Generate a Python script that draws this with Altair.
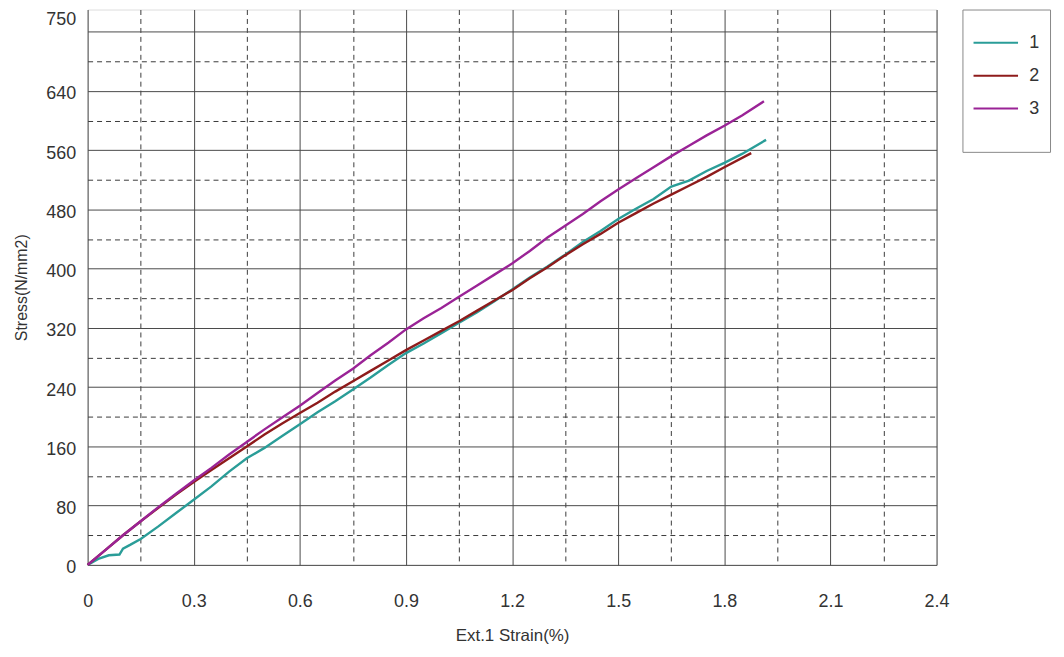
import altair as alt
import pandas as pd

# ---- data ----
strain_1 = [0, 0.03, 0.06, 0.09, 0.10, 0.12, 0.15, 0.2, 0.25, 0.3, 0.35, 0.4, 0.45, 0.5, 0.55, 0.6,
            0.65, 0.7, 0.75, 0.8, 0.85, 0.9, 0.95, 1.0, 1.05, 1.1, 1.15, 1.2, 1.25, 1.3, 1.35, 1.4,
            1.45, 1.5, 1.55, 1.6, 1.65, 1.7, 1.75, 1.8, 1.85, 1.918]
stress_1 = [0, 8, 13, 14, 22, 27, 35, 52, 70, 88, 106, 126, 144, 158, 174, 190,
            206, 221, 237, 253, 270, 286, 299, 313, 327, 341, 356, 372, 388, 403, 419, 436,
            451, 467, 481, 494, 511, 519, 532, 543, 555, 574]

strain_2 = [0, 0.05, 0.1, 0.15, 0.2, 0.25, 0.3, 0.35, 0.4, 0.45, 0.5, 0.55, 0.6, 0.65, 0.7, 0.75,
            0.8, 0.85, 0.9, 0.95, 1.0, 1.05, 1.1, 1.15, 1.2, 1.25, 1.3, 1.35, 1.4, 1.45, 1.5,
            1.55, 1.6, 1.65, 1.7, 1.75, 1.8, 1.876]
stress_2 = [0, 20, 40, 59, 77, 95, 112, 128, 144, 160, 176, 191, 205, 219, 234, 248,
            262, 276, 290, 303, 316, 329, 343, 357, 371, 387, 402, 418, 433, 447, 462,
            475, 488, 500, 512, 524, 537, 556]

strain_3 = [0, 0.05, 0.1, 0.15, 0.2, 0.25, 0.3, 0.35, 0.4, 0.45, 0.5, 0.55, 0.6, 0.65, 0.7, 0.75,
            0.8, 0.85, 0.9, 0.95, 1.0, 1.05, 1.1, 1.15, 1.2, 1.25, 1.3, 1.35, 1.4, 1.45, 1.5,
            1.55, 1.6, 1.65, 1.7, 1.75, 1.8, 1.85, 1.912]
stress_3 = [0, 20, 40, 59, 78, 96, 114, 131, 149, 166, 183, 199, 215, 232, 249, 265,
            283, 300, 318, 333, 347, 362, 377, 392, 407, 424, 442, 458, 474, 491, 507,
            522, 537, 552, 566, 580, 593, 607, 626]

series_names = ["1", "2", "3"]
series_colors = ["#2a9d98", "#8e1b1b", "#9a2396"]

x_ticks = [round(0.15 * k, 2) for k in range(17)]          # 0 .. 2.4
y_ticks = [40 * k for k in range(19)] + [750]              # 0 .. 720, 750

rows = []
for name, xs, ys in zip(series_names, [strain_1, strain_2, strain_3], [stress_1, stress_2, stress_3]):
    for i, (a, b) in enumerate(zip(xs, ys)):
        rows.append({"series": name, "strain": a, "stress": b, "order": i})
df = pd.DataFrame(rows)

FONT = "Liberation Sans"
GRID_SOLID = "#4a4a4a"
GRID_DASH = "#3a3a3a"
X_MINOR = "round(datum.value*100) % 30 != 0"

x_axis = alt.Axis(
    values=x_ticks,
    title="Ext.1 Strain(%)",
    labelExpr="round(datum.value*100) % 30 == 0 ? format(datum.value, '.1~f') : ''",
    labelFlush=False,
    grid=True,
    gridColor={"condition": {"test": X_MINOR, "value": GRID_DASH}, "value": GRID_SOLID},
    gridDash={"condition": {"test": X_MINOR, "value": [5, 4]}, "value": []},
    gridWidth=1,
    ticks=False,
    tickSize=0,
    domain=False,
    labelPadding=28,
    labelFont=FONT, labelFontSize=18, labelColor="#333",
    titleFont=FONT, titleFontSize=17, titleFontWeight="normal", titleColor="#333",
    titlePadding=17,
)

y_axis = alt.Axis(
    values=y_ticks,
    title="Stress(N/mm2)",
    labelExpr="(datum.value % 80 == 0 && datum.value != 720) || datum.value == 750 ? datum.label : ''",
    labelFlush=False,
    grid=True,
    gridColor={"condition": {"test": "datum.value % 80 == 40", "value": GRID_DASH}, "value": GRID_SOLID},
    gridDash={"condition": {"test": "datum.value % 80 == 40", "value": [5, 4]}, "value": []},
    gridOpacity={"condition": {"test": "datum.value == 750", "value": 0}, "value": 1},
    gridWidth=1,
    ticks=False,
    tickSize=0,
    domain=False,
    labelPadding=12,
    labelOffset={"condition": {"test": "datum.value == 750", "value": 10}, "value": 3},
    labelFont=FONT, labelFontSize=18, labelColor="#333",
    titleFont=FONT, titleFontSize=16, titleFontWeight="normal", titleColor="#333",
    titlePadding=16,
)

chart = alt.Chart(df).mark_line(strokeWidth=2.4).encode(
    x=alt.X("strain:Q", scale=alt.Scale(domain=[0, 2.4], nice=False, zero=True), axis=x_axis),
    y=alt.Y("stress:Q", scale=alt.Scale(domain=[0, 750], nice=False), axis=y_axis),
    color=alt.Color(
        "series:N",
        scale=alt.Scale(domain=series_names, range=series_colors),
        legend=alt.Legend(
            title=" ",
            titleOrient="bottom",
            titleFontSize=17,
            titlePadding=8,
            orient="none",
            legendX=879,
            legendY=0,
            symbolType="stroke",
            symbolSize=2000,
            symbolStrokeWidth=2,
            labelFont=FONT, labelFontSize=18, labelColor="#333",
            labelOffset=10,
            rowPadding=0,
            padding=10,
            strokeColor="#888",
        ),
    ),
    order="order:Q",
).properties(
    width=853,
    height=558,
    padding={"left": 80, "top": 0, "right": 120, "bottom": 86},
    autosize="none",
).configure_view(
    stroke="#999", strokeWidth=2
).configure(background="white")

chart.save("out.html", embed_options={"renderer": "svg", "actions": False})
